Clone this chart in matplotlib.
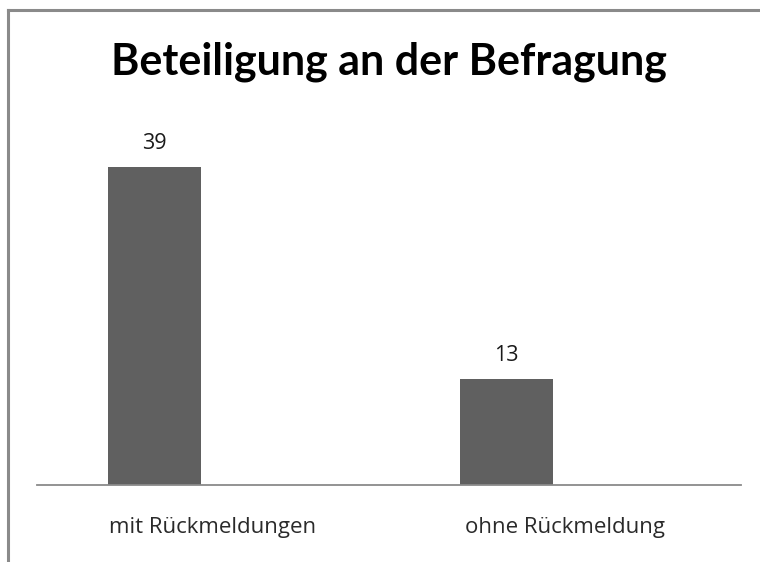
import matplotlib.pyplot as plt
from matplotlib.lines import Line2D
import numpy as np

# Data
categories = ["mit Rückmeldungen", "ohne Rückmeldung"]
values = [39, 13]
title = "Beteiligung an der Befragung"

W, H = 760, 562
fig = plt.figure(figsize=(W / 100, H / 100), dpi=100)
fig.patch.set_facecolor("white")

# Frame around the chart (cut off on the right and at the bottom)
fig.add_artist(Line2D([8 / W, 8 / W], [0, 1 - 10 / H], transform=fig.transFigure,
                      color="#8a8a8a", lw=2.2))
fig.add_artist(Line2D([8 / W, 1], [1 - 10 / H, 1 - 10 / H], transform=fig.transFigure,
                      color="#8a8a8a", lw=2.2))

# Plot area: x 37..741 px, baseline at y 485 px
ax = fig.add_axes([37 / W, 1 - 485 / H, 704 / W, (485 - 85) / H])
ax.set_xlim(0, len(categories))
ax.set_ylim(0, 400 / (318 / 39))

x = np.arange(len(categories)) + 0.5
bar_x = x - 0.166
ax.bar(bar_x, values, width=0.264, color="#606060", zorder=2)

for bx, v in zip(bar_x, values):
    ax.annotate(str(v), (bx, v), xytext=(0, 13), textcoords="offset points",
                ha="center", va="baseline", fontsize=15.5, family="Open Sans",
                color="#1a1a1a")

ax.set_xticks(x)
ax.set_xticklabels(categories, fontsize=16, family="Open Sans", color="#2a2a2a")
ax.tick_params(axis="x", length=0, pad=23)
ax.set_yticks([])
for s in ["top", "right", "left"]:
    ax.spines[s].set_visible(False)
ax.spines["bottom"].set_color("#8a8a8a")
ax.spines["bottom"].set_linewidth(1.3)
ax.patch.set_alpha(0)

fig.text(389 / W, 1 - 75 / H, title, ha="center", va="baseline",
         fontsize=31, fontweight="bold", family="Lato", color="black")

fig.savefig("out.png", dpi=100)
